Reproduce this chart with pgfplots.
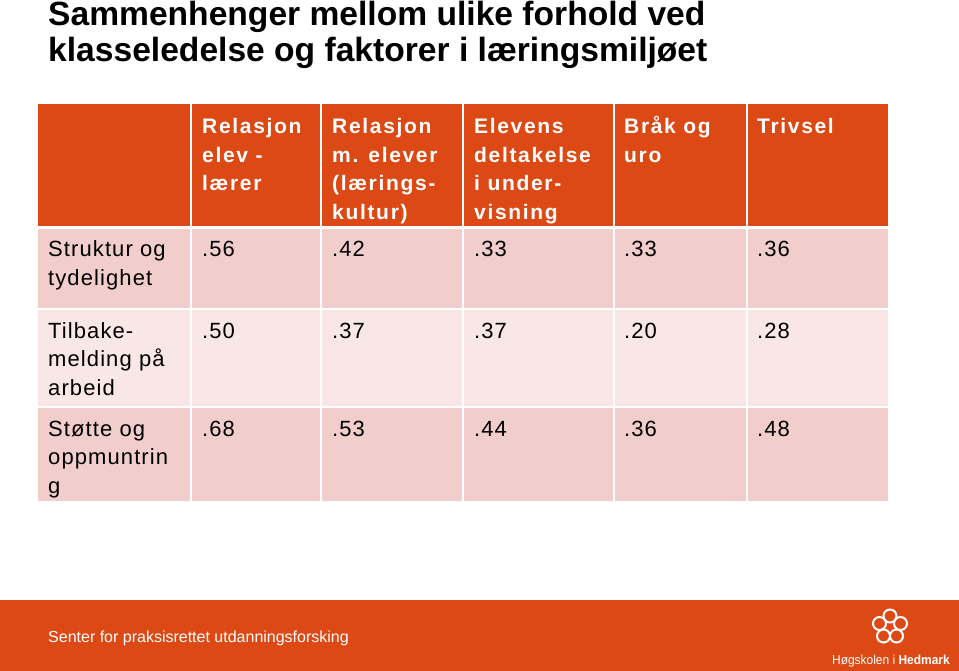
\documentclass[border=0pt]{standalone}
\usepackage{fontspec}
\setmainfont{Liberation Sans}
\newfontfamily\hdrfont[LetterSpace=8]{Liberation Sans}
\newfontfamily\datafont[LetterSpace=5]{Liberation Sans}
\newfontfamily\footfont[FakeStretch=0.92]{Liberation Sans}
\usepackage{pgfplots}
\usepackage{pgfplotstable}
\pgfplotsset{compat=1.18}
\definecolor{hmorange}{RGB}{221,73,21}
\definecolor{rowpink}{RGB}{241,205,204}
\definecolor{rowlight}{RGB}{248,231,230}
\pgfplotstableread{
x y label
202 257 .56
332 257 .42
474 257 .33
624 257 .33
757 257 .36
202 338 .50
332 338 .37
474 338 .37
624 338 .20
757 338 .28
202 436 .68
332 436 .53
474 436 .44
624 436 .36
757 436 .48
}\vals
\newcommand{\hdr}{\hdrfont\bfseries\fontsize{21}{25}\selectfont\color{white}}
\newcommand{\lab}{\datafont\fontsize{22}{26}\selectfont}
\begin{document}
\begin{tikzpicture}
\path[use as bounding box] (0,0) rectangle (959pt,671pt);
\begin{axis}[at={(0,0)}, anchor=south west, scale only axis,
  width=959pt, height=671pt, xmin=0, xmax=959, ymin=0, ymax=671,
  y dir=reverse, axis lines=none, clip=false]
% header row
\fill[hmorange] (38,104) rectangle (190,226);
\fill[hmorange] (192,104) rectangle (320,226);
\fill[hmorange] (322,104) rectangle (462,226);
\fill[hmorange] (464,104) rectangle (613,226);
\fill[hmorange] (615,104) rectangle (746,226);
\fill[hmorange] (748,104) rectangle (888,226);
% row 1
\fill[rowpink] (38,229) rectangle (190,308);
\fill[rowpink] (192,229) rectangle (320,308);
\fill[rowpink] (322,229) rectangle (462,308);
\fill[rowpink] (464,229) rectangle (613,308);
\fill[rowpink] (615,229) rectangle (746,308);
\fill[rowpink] (748,229) rectangle (888,308);
% row 2
\fill[rowlight] (38,310) rectangle (190,406);
\fill[rowlight] (192,310) rectangle (320,406);
\fill[rowlight] (322,310) rectangle (462,406);
\fill[rowlight] (464,310) rectangle (613,406);
\fill[rowlight] (615,310) rectangle (746,406);
\fill[rowlight] (748,310) rectangle (888,406);
% row 3
\fill[rowpink] (38,408) rectangle (190,501);
\fill[rowpink] (192,408) rectangle (320,501);
\fill[rowpink] (322,408) rectangle (462,501);
\fill[rowpink] (464,408) rectangle (613,501);
\fill[rowpink] (615,408) rectangle (746,501);
\fill[rowpink] (748,408) rectangle (888,501);
% footer band
\fill[hmorange] (0,600) rectangle (959,671);
% title
\node[anchor=base west, inner sep=0pt, font=\bfseries\fontsize{33.6}{38}\selectfont] at (48,26) {Sammenhenger mellom ulike forhold ved};
\node[anchor=base west, inner sep=0pt, font=\bfseries\fontsize{33.6}{38}\selectfont] at (48,62) {klasseledelse og faktorer i læringsmiljøet};
% header texts
\node[anchor=base west, inner sep=0pt, font=\hdr] at (202,134) {Relasjon};
\node[anchor=base west, inner sep=0pt, font=\hdr] at (202,162.5) {elev -};
\node[anchor=base west, inner sep=0pt, font=\hdr] at (202,191) {lærer};
\node[anchor=base west, inner sep=0pt, font=\hdr] at (332,134) {Relasjon};
\node[anchor=base west, inner sep=0pt, font=\hdr] at (332,162.5) {m. elever};
\node[anchor=base west, inner sep=0pt, font=\hdr] at (332,191) {(lærings-};
\node[anchor=base west, inner sep=0pt, font=\hdr] at (332,219.5) {kultur)};
\node[anchor=base west, inner sep=0pt, font=\hdr] at (474,134) {Elevens};
\node[anchor=base west, inner sep=0pt, font=\hdr] at (474,162.5) {deltakelse};
\node[anchor=base west, inner sep=0pt, font=\hdr] at (474,191) {i under-};
\node[anchor=base west, inner sep=0pt, font=\hdr] at (474,219.5) {visning};
\node[anchor=base west, inner sep=0pt, font=\hdr] at (624,134) {Bråk og};
\node[anchor=base west, inner sep=0pt, font=\hdr] at (624,162.5) {uro};
\node[anchor=base west, inner sep=0pt, font=\hdr] at (757,134) {Trivsel};
% row labels
\node[anchor=base west, inner sep=0pt, font=\lab] at (48,257) {Struktur og};
\node[anchor=base west, inner sep=0pt, font=\lab] at (48,285.7) {tydelighet};
\node[anchor=base west, inner sep=0pt, font=\lab] at (48,338) {Tilbake-};
\node[anchor=base west, inner sep=0pt, font=\lab] at (48,366.7) {melding på};
\node[anchor=base west, inner sep=0pt, font=\lab] at (48,395.4) {arbeid};
\node[anchor=base west, inner sep=0pt, font=\lab] at (48,436) {Støtte og};
\node[anchor=base west, inner sep=0pt, font=\lab] at (48,464.7) {oppmuntrin};
\node[anchor=base west, inner sep=0pt, font=\lab] at (48,493.4) {g};
% values
\addplot[draw=none, mark=none, point meta=explicit symbolic,
  nodes near coords, nodes near coords align={anchor=base west},
  every node near coord/.append style={inner sep=0pt, font=\lab}]
  table[x=x, y=y, meta=label] {\vals};
% footer
\node[anchor=base west, inner sep=0pt, text=white, font=\fontsize{16}{19}\selectfont] at (48,642) {Senter for praksisrettet utdanningsforsking};
\node[anchor=base east, inner sep=0pt, text=white, font=\footfont\fontsize{13}{16}\selectfont] at (950,664) {Høgskolen i \textbf{Hedmark}};
\draw[white, line width=2pt] (890,616) circle[radius=6.5];
\draw[white, line width=2pt] (900.5,623.5) circle[radius=6.5];
\draw[white, line width=2pt] (896.5,636) circle[radius=6.5];
\draw[white, line width=2pt] (883.5,636) circle[radius=6.5];
\draw[white, line width=2pt] (879.5,623.5) circle[radius=6.5];
\end{axis}
\end{tikzpicture}
\end{document}
